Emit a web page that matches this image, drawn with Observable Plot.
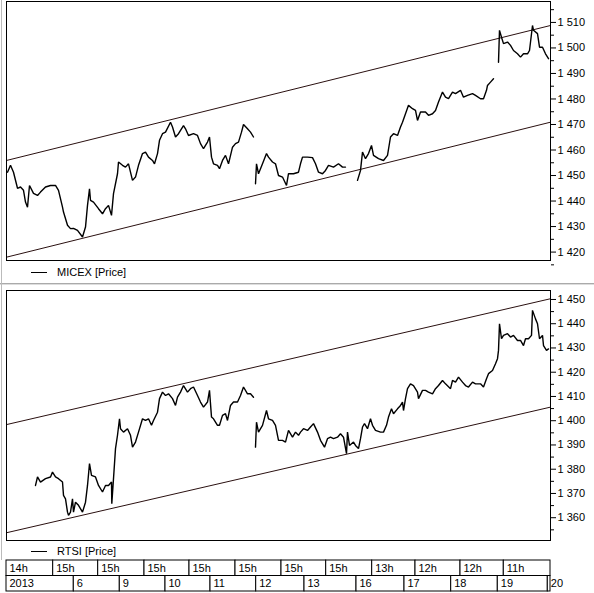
<!DOCTYPE html>
<html><head><meta charset="utf-8">
<script src="https://cdn.jsdelivr.net/npm/d3@7"></script>
<script src="https://cdn.jsdelivr.net/npm/@observablehq/plot@0.6"></script>
<style>
html,body{margin:0;padding:0;background:#fff;}
#wrap{position:relative;width:594px;height:593px;overflow:hidden;font-family:"Liberation Sans",Arial,sans-serif;font-size:11px;color:#000;}
.abs{position:absolute;}
.leg{position:absolute;left:31px;display:flex;align-items:center;white-space:nowrap;}
.leg span.l{display:inline-block;width:16px;height:0;border-top:1px solid #000;margin-right:10px;}
</style></head>
<body><div id="wrap"></div>
<script>
// ---- data (t = bar index along the trading-time axis) ----
const micexT = [1,4,7,11,14,17,19,21,23,27,31,34,39,44,49,52,56,57,61,64,67,71,76,79,81,83,84,87,92,96,99,102,105,107,111,112,116,119,122,126,129,132,136,139,142,146,148,151,153,156,159,164,166,169,172,177,179,182,187,191,194,197,201,203,205,207,211,213,216,219,222,226,229,232,235,237,241,244,247,248,249,250,252,256,260,262,266,269,272,276,280,282,287,292,294,296,301,306,309,312,316,319,322,327,332,336,339,345,351,354,356,359,362,365,367,372,377,381,384,387,391,394,396,399,402,406,409,411,414,419,422,426,429,432,436,439,442,446,449,454,457,461,466,469,474,477,480,481,484,487,490,492,493,495,497,501,504,507,511,514,517,521,523,526,527,531,533,536,539,542];
const micexV = [1451.3,1454,1451.3,1445,1445.5,1444.2,1439.6,1437.6,1446.1,1443,1442.2,1443.5,1445.5,1446.1,1446.1,1444.2,1437.6,1435.7,1430.5,1429.2,1429.3,1428.5,1425.9,1429.8,1438.3,1444.8,1440.3,1439.6,1437,1435,1437,1438.3,1434.4,1442.9,1450.7,1455.3,1454,1453.3,1454.6,1448.1,1449.4,1454,1458.6,1459.2,1457.2,1455.9,1454.6,1458.6,1463.8,1466.4,1467,1470.9,1469,1465.1,1466.4,1469.6,1468.3,1465.7,1466.4,1465.7,1462.5,1460.5,1463.1,1465.1,1457.2,1454.6,1454,1452.7,1455.9,1457.9,1454.6,1461.1,1462.5,1463.1,1467,1470,1468.3,1467,1465.1,NaN,1446.8,1454.6,1450.7,1454.6,1458.6,1457.2,1455.3,1454.6,1450,1449.4,1446.1,1450.7,1450.7,1451.3,1454.6,1457.2,1457.2,1457,1454.6,1451.3,1450.7,1452,1454,1453.3,1454.6,1453.3,1453.3,NaN,1448.1,1452,1459.2,1456.6,1458.6,1461.8,1457.9,1456.6,1455.9,1457.9,1465.1,1466.4,1465.7,1469,1470.9,1474.2,1477.5,1476.2,1475.5,1471.6,1474.9,1474.9,1473.6,1474.2,1475.5,1478.8,1482.7,1480.7,1480.1,1482.7,1482.1,1483.4,1480.7,1481.4,1482.1,1481.4,1480.1,1480.1,1483.4,1485.3,1486.6,1487.9,NaN,1494.4,1506.9,1504.2,1501.7,1502.3,1501,1499,1497.7,1496.4,1497.7,1497.7,1499,1508.8,1506.9,1505.6,1500.3,1500.3,1497.7,1495.8];

const rtsiT = [29,31,34,39,44,46,49,52,56,57,59,61,62,64,66,67,69,72,76,79,81,83,85,89,92,96,99,102,105,105.3,107,109,111,113,114,117,121,124,126,129,132,136,139,142,145,147,151,153,156,159,162,166,169,171,174,177,181,184,187,191,194,197,201,203,205,207,211,213,216,219,221,224,227,231,234,237,241,244,247,248,249,250,252,256,260,262,266,269,272,276,279,282,286,289,292,294,297,301,304,307,311,314,318,321,324,327,331,334,337,340,341,343,347,349,352,354,356,358,361,364,366,369,374,377,380,382,385,387,391,394,396,397,399,401,404,407,411,412,416,419,422,426,429,432,436,439,444,446,449,452,456,459,462,466,469,474,477,480,482,486,489,491,492,493,495,497,501,504,507,511,514,517,519,522,525,526,529,531,533,536,537,540,542];
const rtsiV = [1373.3,1376.8,1374.7,1376.1,1376.8,1378.8,1376.8,1376.1,1374.7,1369.2,1367.8,1362.3,1361,1362.3,1367.8,1362.3,1366.4,1365.1,1362.3,1366.4,1373.3,1382.3,1377.5,1376.8,1373.3,1370.6,1373.3,1373.3,1374.7,1365.8,1376.1,1388.5,1394,1400.8,1396.7,1395.3,1396.7,1394,1389.1,1391.2,1395.3,1400.8,1400.1,1400.8,1398.1,1400.1,1403.5,1409.1,1411.8,1410.4,1411.1,1409.1,1406.3,1409.7,1411.8,1414.5,1411.8,1413.2,1413.9,1410.4,1407.7,1405.6,1407.7,1412.5,1401.5,1400.8,1398.1,1398.1,1402.2,1402.9,1400.1,1406.3,1407.7,1407.7,1410.4,1413.9,1411.1,1411.1,1409.7,NaN,1389.1,1399.4,1395.3,1398.1,1404.2,1400.8,1400.1,1398.1,1391.9,1391.9,1391.2,1396,1393.2,1395.3,1394,1395.3,1396.7,1396,1397.4,1398.8,1395.3,1391.9,1389.1,1392.6,1393.2,1392.6,1393.2,1394.6,1393.2,1386.4,1395.3,1389.8,1391.2,1389.8,1388.5,1392.6,1397.4,1398.8,1396.7,1400.8,1398.1,1396,1395.3,1395.3,1398.1,1401.5,1404.9,1402.9,1404.9,1406.3,1407.7,1404.2,1409.1,1413.2,1415.2,1414.5,1411.8,1409.1,1412.5,1412.5,1411.8,1411.1,1413.2,1414.5,1416.6,1415.2,1413.2,1416.6,1415.9,1418,1415.9,1414.5,1413.9,1415.9,1415.2,1415.2,1413.9,1417.3,1419.4,1420.7,1423.5,1425.6,1429,1440,1433.8,1435.2,1435.9,1434.5,1435.2,1433.1,1433.1,1431,1433.8,1433.8,1435.2,1445.5,1442,1440,1433.8,1435.2,1431,1429,1429.6];

// channel lines (value at start and end of axis)
const channelT = [0, 544];
const micexUpper = [1455.9, 1508.8];
const micexLower = [1418.0, 1470.9];
const rtsiUpper = [1398.4, 1450.3];
const rtsiLower = [1353.8, 1405.6];

// y ticks
const micexTicks = [1420,1430,1440,1450,1460,1470,1480,1490,1500,1510];
const micexMinor = [1415,1425,1435,1445,1455,1465,1475,1485,1495,1505,1515];
const rtsiTicks = [1360,1370,1380,1390,1400,1410,1420,1430,1440,1450];
const rtsiMinor = [1355,1365,1375,1385,1395,1405,1415,1425,1435,1445];

// time axis
const hourStarts = [0,46.7,91.7,138,183,229,275,319.7,365.7,409,454,497.3];
const hourLabels = ["14h","15h","15h","15h","15h","15h","15h","15h","13h","12h","12h","11h"];
const dayStarts = [0,67.3,113.3,159,204,249.7,298,350,398,444.7,491.3,541.3];
const dayLabels = ["2013","6","9","10","11","12","13","16","17","18","19","20"];
const axisEnd = 544;

// ---- drawing ----
const FONT = '"Liberation Sans", Arial, sans-serif';
const fmt = d => `${Math.floor(d/1000)} ${String(d%1000).padStart(3,"0")}`;
const wrap = document.getElementById("wrap");

function place(el, top, left=0){ el.classList.add("abs"); el.style.top = top+"px"; el.style.left = left+"px"; wrap.appendChild(el); }

function panel(T, V, up, lo, yDomain, ticks, minor, height){
  const series = T.map((t,i)=>({t, v:V[i]}));
  const upper = channelT.map((t,i)=>({t, v:up[i]}));
  const lower = channelT.map((t,i)=>({t, v:lo[i]}));
  return Plot.plot({
    width:594, height, marginLeft:6, marginRight:44, marginTop:1, marginBottom:1,
    style:{fontFamily:FONT, fontSize:"11px", background:"transparent", color:"#000", overflow:"visible"},
    x:{domain:[0,544], axis:null},
    y:{domain:yDomain, axis:null},
    marks:[
      Plot.line(upper,{x:"t",y:"v",stroke:"#2a1010",strokeWidth:1}),
      Plot.line(lower,{x:"t",y:"v",stroke:"#2a1010",strokeWidth:1}),
      Plot.line(series,{x:"t",y:"v",stroke:"#000",strokeWidth:1.4,strokeLinejoin:"miter"}),
      Plot.axisY({anchor:"right",ticks:minor,tickSize:3,tickFormat:()=>"",label:null,stroke:"#000"}),
      Plot.axisY({anchor:"right",ticks:ticks,tickSize:5,tickPadding:2,tickFormat:fmt,label:null,stroke:"#000",fill:"#000",fontSize:11}),
      Plot.frame({stroke:"#000"})
    ]
  });
}

const p1 = panel(micexT, micexV, micexUpper, micexLower, [1416.7,1518.2], micexTicks, micexMinor, 261);
place(p1, 0);
const p2 = panel(rtsiT, rtsiV, rtsiUpper, rtsiLower, [1350.6,1453.7], rtsiTicks, rtsiMinor, 252);
place(p2, 289);

// time axis
const hourCells = hourStarts.map((s,i)=>({x1:s, x2: i<hourStarts.length-1 ? hourStarts[i+1] : axisEnd, r:0, label:hourLabels[i]}));
const dayCells = dayStarts.map((s,i)=>({x1:s, x2: i<dayStarts.length-1 ? dayStarts[i+1] : axisEnd, r:1, label:dayLabels[i]}));
const cells = hourCells.concat(dayCells);
const p3 = Plot.plot({
  width:594, height:34, marginLeft:6, marginRight:44, marginTop:0, marginBottom:0,
  style:{fontFamily:FONT, fontSize:"11px", background:"transparent", color:"#000", overflow:"visible"},
  x:{domain:[0,544], axis:null},
  y:{domain:[0,2], range:[1,32], axis:null},
  marks:[
    Plot.rect(cells,{x1:"x1",x2:"x2",y1:"r",y2:d=>d.r+1,fill:"#fff",stroke:"#000",strokeWidth:1}),
    Plot.text(cells,{x:"x1",y:d=>d.r+0.5,text:"label",textAnchor:"start",dx:3,fill:"#000",fontSize:11})
  ]
});
place(p3, 559);

// legends
function legend(label, top){
  const d = document.createElement("div");
  d.className = "leg";
  d.style.top = top+"px";
  d.innerHTML = `<span class="l"></span><span>${label}</span>`;
  wrap.appendChild(d);
}
legend("MICEX [Price]", 266);
legend("RTSI [Price]", 545);

// window separators
const sep = document.createElement("div");
sep.style.cssText = "position:absolute;left:0;top:283px;width:594px;height:0;border-top:1px solid #aaa;border-bottom:1px solid #ddd;";
wrap.appendChild(sep);
const vl = document.createElement("div");
vl.style.cssText = "position:absolute;left:1px;top:0;width:0;height:560px;border-left:1px solid #bbb;";
wrap.appendChild(vl);
</script></body></html>
